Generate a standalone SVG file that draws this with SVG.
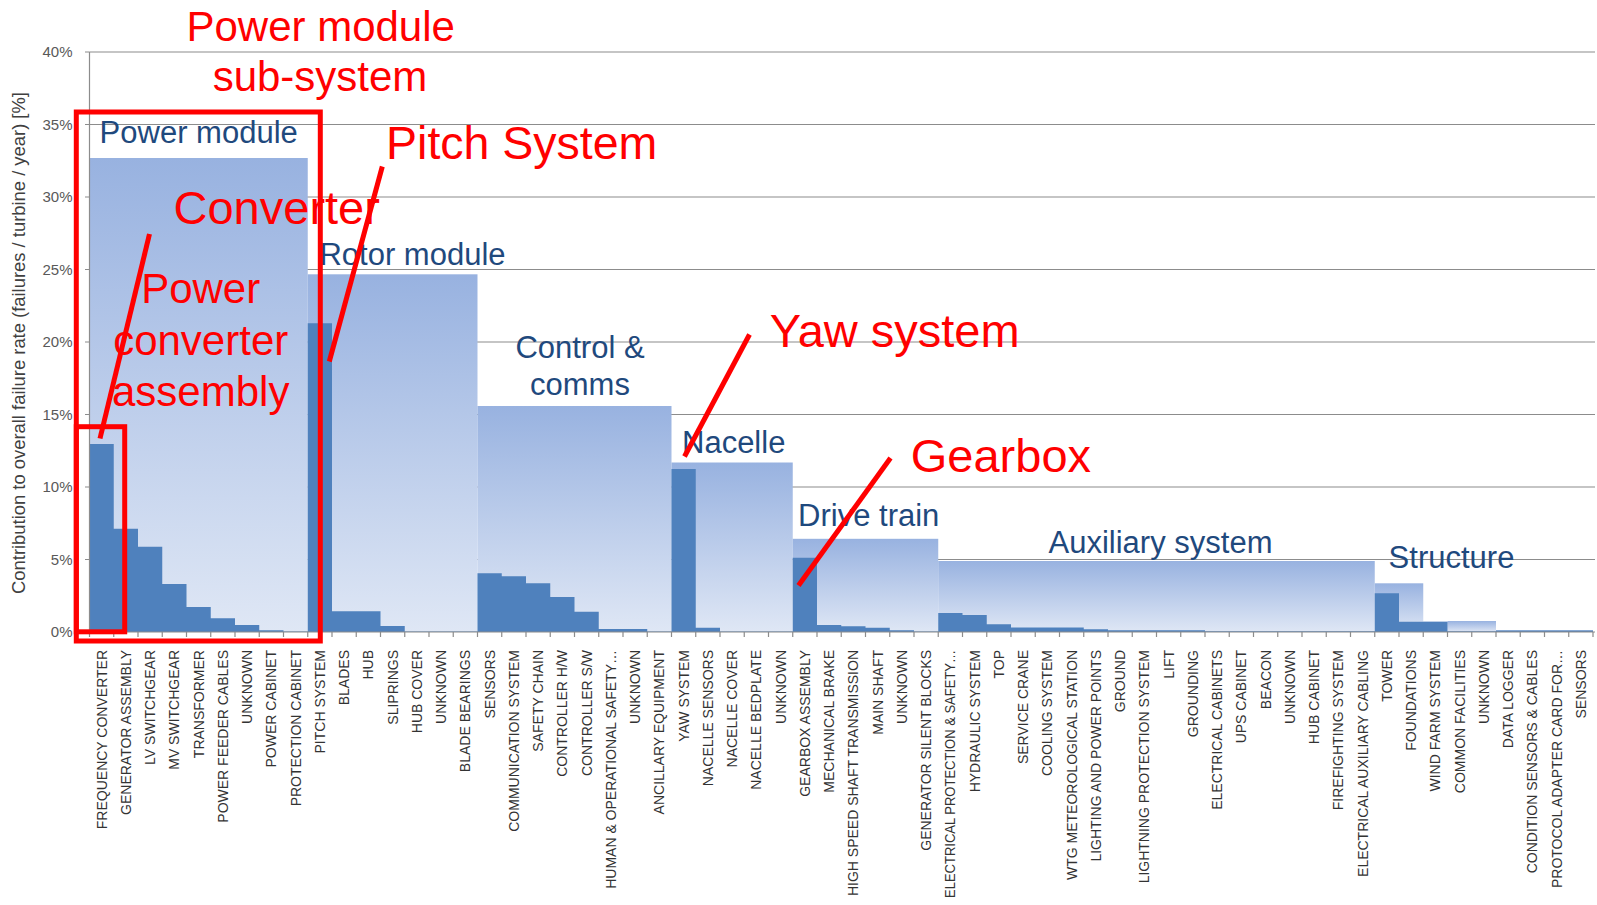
<svg xmlns="http://www.w3.org/2000/svg" width="1597" height="905" viewBox="0 0 1597 905">
<defs>
<linearGradient id="bg" x1="0" y1="0" x2="0" y2="1">
<stop offset="0" stop-color="#98B2E0"/>
<stop offset="1" stop-color="#DFE7F5"/>
</linearGradient>
<style>
.grid{stroke:#8C8C8C;stroke-width:1.2;fill:none}
.axis{stroke:#8C8C8C;stroke-width:1.2;fill:none}
.grp{fill:url(#bg)}
.bar{fill:#4F81BD}
.ytick{font-family:"Liberation Sans",Arial,sans-serif;font-size:15px;fill:#595959;text-anchor:end}
.ytitle{font-family:"Liberation Sans",Arial,sans-serif;font-size:18.4px;fill:#404040;text-anchor:middle}
.cat{font-family:"Liberation Sans",Arial,sans-serif;font-size:14px;fill:#333333;text-anchor:end}
.blue{font-family:"Liberation Sans",Arial,sans-serif;font-size:31px;fill:#1F497D;text-anchor:middle}
.red{font-family:"Liberation Sans",Arial,sans-serif;fill:#FF0000;text-anchor:middle}
.rbox{fill:none;stroke:#FF0000;stroke-width:5}
.rline{stroke:#FF0000;stroke-width:5;fill:none}
</style>
</defs>
<rect width="1597" height="905" fill="#FFFFFF"/>
<g id="gridlines">
<path class="grid" d="M89.5,52H1595M89.5,124.5H1595M89.5,197H1595M89.5,269.5H1595M89.5,342H1595M89.5,414.5H1595M89.5,487H1595M89.5,559.5H1595"/>
</g>
<g id="group-bars">
<rect id="g-power" class="grp" x="89.5" y="158" width="218.25" height="474"/>
<rect id="g-rotor" class="grp" x="307.75" y="274.3" width="169.75" height="357.7"/>
<rect id="g-control" class="grp" x="477.5" y="406" width="194" height="226"/>
<rect id="g-nacelle" class="grp" x="671.5" y="462.5" width="121.25" height="169.5"/>
<rect id="g-drive" class="grp" x="792.75" y="538.8" width="145.5" height="93.2"/>
<rect id="g-aux" class="grp" x="938.25" y="561" width="436.5" height="71"/>
<rect id="g-structure" class="grp" x="1374.75" y="583.3" width="48.5" height="48.7"/>
<rect id="g-windfarm" class="grp" x="1423.25" y="621.7" width="24.25" height="10.3"/>
<rect id="g-common" class="grp" x="1447.5" y="621" width="48.5" height="11"/>
<rect id="g-last" class="grp" x="1496" y="630.3" width="97" height="1.7"/>
</g>
<g id="component-bars">
<path class="bar" d="M89.5,632V444H113.75V528.7H138V546.7H162.25V584H186.5V607H210.75V618.3H235V625H259.25V630.3H283.5V631.5H307.75V323.3H332V611.3H380.5V626H404.75V631.5H477.5V573.3H501.75V576.3H526V583.3H550.25V597H574.5V611.7H598.75V629H647.25V631.5H671.5V469H695.75V627.7H720V631.5H792.75V557.7H817V625H841.25V626.3H865.5V627.7H889.75V630.3H914V631.5H938.25V613H962.5V615H986.75V624.3H1011V627.5H1083.75V629.3H1108V630.3H1205V631.2H1374.75V593.3H1399V621.7H1447.5V631.3H1496V630.5H1593V632Z"/>
</g>
<g id="axes">
<path class="axis" d="M89.5,52V632M85,52H89.5M85,124.5H89.5M85,197H89.5M85,269.5H89.5M85,342H89.5M85,414.5H89.5M85,487H89.5M85,559.5H89.5M85,632H1595"/>
<path class="axis" d="M89.5,632v5M113.75,632v5M138,632v5M162.25,632v5M186.5,632v5M210.75,632v5M235,632v5M259.25,632v5M283.5,632v5M307.75,632v5M332,632v5M356.25,632v5M380.5,632v5M404.75,632v5M429,632v5M453.25,632v5M477.5,632v5M501.75,632v5M526,632v5M550.25,632v5M574.5,632v5M598.75,632v5M623,632v5M647.25,632v5M671.5,632v5M695.75,632v5M720,632v5M744.25,632v5M768.5,632v5M792.75,632v5M817,632v5M841.25,632v5M865.5,632v5M889.75,632v5M914,632v5M938.25,632v5M962.5,632v5M986.75,632v5M1011,632v5M1035.25,632v5M1059.5,632v5M1083.75,632v5M1108,632v5M1132.25,632v5M1156.5,632v5M1180.75,632v5M1205,632v5M1229.25,632v5M1253.5,632v5M1277.75,632v5M1302,632v5M1326.25,632v5M1350.5,632v5M1374.75,632v5M1399,632v5M1423.25,632v5M1447.5,632v5M1471.75,632v5M1496,632v5M1520.25,632v5M1544.5,632v5M1568.75,632v5M1593,632v5"/>
<text class="ytick" x="72.5" y="57">40%</text>
<text class="ytick" x="72.5" y="129.5">35%</text>
<text class="ytick" x="72.5" y="202">30%</text>
<text class="ytick" x="72.5" y="274.5">25%</text>
<text class="ytick" x="72.5" y="347">20%</text>
<text class="ytick" x="72.5" y="419.5">15%</text>
<text class="ytick" x="72.5" y="492">10%</text>
<text class="ytick" x="72.5" y="564.5">5%</text>
<text class="ytick" x="72.5" y="637">0%</text>
<text class="ytitle" transform="translate(25,343) rotate(-90)">Contribution to overall failure rate (failures / turbine / year) [%]</text>
</g>
<g id="category-labels">
<text class="cat" transform="translate(106.6,650) rotate(-90)">FREQUENCY CONVERTER</text>
<text class="cat" transform="translate(130.85,650) rotate(-90)">GENERATOR ASSEMBLY</text>
<text class="cat" transform="translate(155.1,650) rotate(-90)">LV SWITCHGEAR</text>
<text class="cat" transform="translate(179.35,650) rotate(-90)">MV SWITCHGEAR</text>
<text class="cat" transform="translate(203.6,650) rotate(-90)">TRANSFORMER</text>
<text class="cat" transform="translate(227.85,650) rotate(-90)">POWER FEEDER CABLES</text>
<text class="cat" transform="translate(252.1,650) rotate(-90)">UNKNOWN</text>
<text class="cat" transform="translate(276.35,650) rotate(-90)">POWER CABINET</text>
<text class="cat" transform="translate(300.6,650) rotate(-90)">PROTECTION CABINET</text>
<text class="cat" transform="translate(324.85,650) rotate(-90)">PITCH SYSTEM</text>
<text class="cat" transform="translate(349.1,650) rotate(-90)">BLADES</text>
<text class="cat" transform="translate(373.35,650) rotate(-90)">HUB</text>
<text class="cat" transform="translate(397.6,650) rotate(-90)">SLIPRINGS</text>
<text class="cat" transform="translate(421.85,650) rotate(-90)">HUB COVER</text>
<text class="cat" transform="translate(446.1,650) rotate(-90)">UNKNOWN</text>
<text class="cat" transform="translate(470.35,650) rotate(-90)">BLADE BEARINGS</text>
<text class="cat" transform="translate(494.6,650) rotate(-90)">SENSORS</text>
<text class="cat" transform="translate(518.85,650) rotate(-90)">COMMUNICATION SYSTEM</text>
<text class="cat" transform="translate(543.1,650) rotate(-90)">SAFETY CHAIN</text>
<text class="cat" transform="translate(567.35,650) rotate(-90)">CONTROLLER H/W</text>
<text class="cat" transform="translate(591.6,650) rotate(-90)">CONTROLLER S/W</text>
<text class="cat" transform="translate(615.85,650) rotate(-90)">HUMAN &amp; OPERATIONAL SAFETY…</text>
<text class="cat" transform="translate(640.1,650) rotate(-90)">UNKNOWN</text>
<text class="cat" transform="translate(664.35,650) rotate(-90)">ANCILLARY EQUIPMENT</text>
<text class="cat" transform="translate(688.6,650) rotate(-90)">YAW SYSTEM</text>
<text class="cat" transform="translate(712.85,650) rotate(-90)">NACELLE SENSORS</text>
<text class="cat" transform="translate(737.1,650) rotate(-90)">NACELLE COVER</text>
<text class="cat" transform="translate(761.35,650) rotate(-90)">NACELLE BEDPLATE</text>
<text class="cat" transform="translate(785.6,650) rotate(-90)">UNKNOWN</text>
<text class="cat" transform="translate(809.85,650) rotate(-90)">GEARBOX ASSEMBLY</text>
<text class="cat" transform="translate(834.1,650) rotate(-90)">MECHANICAL BRAKE</text>
<text class="cat" transform="translate(858.35,650) rotate(-90)">HIGH SPEED SHAFT TRANSMISSION</text>
<text class="cat" transform="translate(882.6,650) rotate(-90)">MAIN SHAFT</text>
<text class="cat" transform="translate(906.85,650) rotate(-90)">UNKNOWN</text>
<text class="cat" transform="translate(931.1,650) rotate(-90)">GENERATOR SILENT BLOCKS</text>
<text class="cat" transform="translate(955.35,650) rotate(-90)" textLength="248" lengthAdjust="spacingAndGlyphs">ELECTRICAL PROTECTION &amp; SAFETY…</text>
<text class="cat" transform="translate(979.6,650) rotate(-90)">HYDRAULIC SYSTEM</text>
<text class="cat" transform="translate(1003.85,650) rotate(-90)">TOP</text>
<text class="cat" transform="translate(1028.1,650) rotate(-90)">SERVICE CRANE</text>
<text class="cat" transform="translate(1052.35,650) rotate(-90)">COOLING SYSTEM</text>
<text class="cat" transform="translate(1076.6,650) rotate(-90)">WTG METEOROLOGICAL STATION</text>
<text class="cat" transform="translate(1100.85,650) rotate(-90)">LIGHTING AND POWER POINTS</text>
<text class="cat" transform="translate(1125.1,650) rotate(-90)">GROUND</text>
<text class="cat" transform="translate(1149.35,650) rotate(-90)">LIGHTNING PROTECTION SYSTEM</text>
<text class="cat" transform="translate(1173.6,650) rotate(-90)">LIFT</text>
<text class="cat" transform="translate(1197.85,650) rotate(-90)">GROUNDING</text>
<text class="cat" transform="translate(1222.1,650) rotate(-90)">ELECTRICAL CABINETS</text>
<text class="cat" transform="translate(1246.35,650) rotate(-90)">UPS CABINET</text>
<text class="cat" transform="translate(1270.6,650) rotate(-90)">BEACON</text>
<text class="cat" transform="translate(1294.85,650) rotate(-90)">UNKNOWN</text>
<text class="cat" transform="translate(1319.1,650) rotate(-90)">HUB CABINET</text>
<text class="cat" transform="translate(1343.35,650) rotate(-90)">FIREFIGHTING SYSTEM</text>
<text class="cat" transform="translate(1367.6,650) rotate(-90)">ELECTRICAL AUXILIARY CABLING</text>
<text class="cat" transform="translate(1391.85,650) rotate(-90)">TOWER</text>
<text class="cat" transform="translate(1416.1,650) rotate(-90)">FOUNDATIONS</text>
<text class="cat" transform="translate(1440.35,650) rotate(-90)">WIND FARM SYSTEM</text>
<text class="cat" transform="translate(1464.6,650) rotate(-90)">COMMON FACILITIES</text>
<text class="cat" transform="translate(1488.85,650) rotate(-90)">UNKNOWN</text>
<text class="cat" transform="translate(1513.1,650) rotate(-90)">DATA LOGGER</text>
<text class="cat" transform="translate(1537.35,650) rotate(-90)">CONDITION SENSORS &amp; CABLES</text>
<text class="cat" transform="translate(1561.6,650) rotate(-90)">PROTOCOL ADAPTER CARD FOR…</text>
<text class="cat" transform="translate(1585.85,650) rotate(-90)">SENSORS</text>
</g>
<g id="group-labels">
<text class="blue" x="198.7" y="143">Power module</text>
<text class="blue" x="412.5" y="265">Rotor module</text>
<text class="blue" x="580" y="357.5">Control &amp;</text>
<text class="blue" x="580" y="395">comms</text>
<text class="blue" x="733.7" y="452.7">Nacelle</text>
<text class="blue" x="868.7" y="526">Drive train</text>
<text class="blue" x="1160.5" y="552.5">Auxiliary system</text>
<text class="blue" x="1451.5" y="568.3">Structure</text>
</g>
<g id="annotation-boxes">
<rect id="box-subsystem" class="rbox" x="76.3" y="112" width="244" height="529"/>
<rect id="box-converter" class="rbox" x="76.3" y="426.7" width="48.4" height="205.1"/>
</g>
<g id="connectors">
<line class="rline" x1="149.5" y1="234" x2="100" y2="438.5"/>
<line class="rline" x1="382.3" y1="166.5" x2="329.3" y2="361.5"/>
<line class="rline" x1="749.5" y1="334.5" x2="684.5" y2="456.5"/>
<line class="rline" x1="890.5" y1="458" x2="798.5" y2="585.5"/>
</g>
<g id="annotation-labels">
<text class="red" x="320.7" y="40.7" font-size="42">Power module</text>
<text class="red" x="320" y="90.7" font-size="42">sub-system</text>
<text class="red" x="521.7" y="159.3" font-size="46.5">Pitch System</text>
<text class="red" x="276.7" y="224" font-size="47">Converter</text>
<text class="red" x="200.7" y="303.3" font-size="42">Power</text>
<text class="red" x="200.7" y="355" font-size="42">converter</text>
<text class="red" x="200.7" y="406" font-size="42">assembly</text>
<text class="red" x="894.7" y="347.3" font-size="47">Yaw system</text>
<text class="red" x="1000.9" y="472.3" font-size="47">Gearbox</text>
</g>
</svg>
